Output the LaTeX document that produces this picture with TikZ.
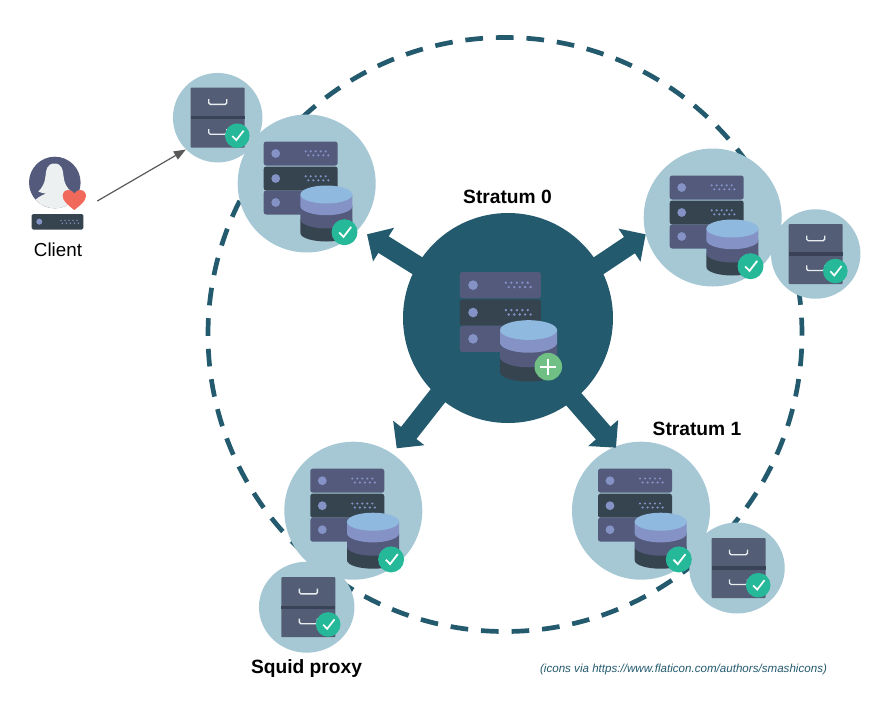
\documentclass[tikz,border=0pt]{standalone}
\usepackage{fontspec}
\setmainfont{Liberation Sans}
\usetikzlibrary{shapes.geometric,arrows.meta}
\definecolor{teal}{HTML}{235A6E}
\definecolor{pale}{HTML}{A6C8D4}
\definecolor{rowp}{HTML}{535A7C}
\definecolor{rowd}{HTML}{36444F}
\definecolor{lil}{HTML}{8592C6}
\definecolor{dbtop}{HTML}{8FB9DF}
\definecolor{cabc}{HTML}{535D75}
\definecolor{cabd}{HTML}{3A4258}
\definecolor{okg}{HTML}{26B999}
\definecolor{plusg}{HTML}{70C085}
\definecolor{heart}{HTML}{F0695A}
\definecolor{skin}{HTML}{ECF0F1}
\definecolor{hand}{HTML}{E8EEF0}
\definecolor{arrowg}{HTML}{595959}
\tikzset{
  bubble/.style={ellipse,fill=pale,inner sep=0pt},
  label text/.style={font=\fontsize{18.8}{22}\selectfont,text=black,inner sep=0pt},
  strat text/.style={font=\fontsize{19.2}{22}\selectfont\bfseries,text=black,inner sep=0pt},
  big arrow/.style={draw=teal,line width=19.5pt,shorten <=-3pt,-{Triangle[length=19.5pt,width=38.5pt,fill=teal]}},
  serverdb/.pic={
    \foreach \yy/\cc in {-42/rowp,-17/rowd,7/rowp}{
      \fill[\cc,rounded corners=2.5pt] (-43,\yy) rectangle (31,\yy+24);
      \fill[lil] (-31,\yy+12) circle (4.4);
      \foreach \dx in {-1,4,9,14,19}{
        \fill[lil] (\dx,\yy+9.8) circle (1.2);
        \fill[lil] (\dx+2.6,\yy+13.8) circle (1.2);
      }
    }
    \fill[rowd] (-6.3,36) -- (-6.3,49.5) .. controls (-6.3,54.5) and (6,58) .. (19.7,58) .. controls (33.4,58) and (45.7,54.5) .. (45.7,49.5) -- (45.7,36) -- cycle;
    \fill[rowp] (-6.3,22) -- (-6.3,36) .. controls (-6.3,41) and (6,45) .. (19.7,45) .. controls (33.4,45) and (45.7,41) .. (45.7,36) -- (45.7,22) -- cycle;
    \fill[lil] (-6.3,11) -- (-6.3,22.7) .. controls (-6.3,27.7) and (6,31.7) .. (19.7,31.7) .. controls (33.4,31.7) and (45.7,27.7) .. (45.7,22.7) -- (45.7,11) -- cycle;
    \fill[dbtop] (19.7,11) ellipse[x radius=26,y radius=9];
  },
  cabinet/.pic={
    \fill[cabc,rounded corners=0.8pt] (-27,-30) rectangle (27,30);
    \fill[cabd] (-27,-1.6) rectangle (27,1.6);
    \foreach \yy in {-18.5,11.3}{
      \draw[hand,line width=1.4pt,rounded corners=1.5pt] (-9,\yy) -- (-9,\yy+5.2) -- (9,\yy+5.2) -- (9,\yy);
    }
  },
  tickbadge/.pic={
    \fill[okg] (0,0) circle (13);
    \draw[white,line width=1.8pt] (-5.3,0.3) -- (-1,4.7) -- (6.7,-5.3);
  },
  tinytick/.pic={
    \fill[okg] (0,0) circle (12.3);
    \draw[white,line width=1.7pt] (-5,0.3) -- (-1,4.4) -- (6.3,-5);
  },
  plusbadge/.pic={
    \fill[plusg] (0,0) circle (13.8);
    \draw[white,line width=2pt] (-8,0) -- (8,0) (0,-8) -- (0,8);
  }
}
\begin{document}
\begin{tikzpicture}[x=1pt,y=-1pt]
\useasboundingbox (0,0) rectangle (884,702);
% dashed ring
\draw[teal,line width=4.7pt,dash pattern=on 17.7pt off 12.89pt,dash phase=16.5pt] (505,334.5) circle (297);
% bubbles
\node[bubble,minimum width=138pt,minimum height=138pt] (srvTL) at (306.7,183.5) {};
\node[bubble,minimum width=138pt,minimum height=138pt] (srvR) at (712.7,217.5) {};
\node[bubble,minimum width=138pt,minimum height=138pt] (srvBL) at (353.3,510.7) {};
\node[bubble,minimum width=138pt,minimum height=138pt] (srvBR) at (641,510.7) {};
\node[bubble,minimum width=89.5pt,minimum height=89.5pt] (cabTL) at (217.7,117.7) {};
\node[bubble,minimum width=89.5pt,minimum height=89.5pt] (cabR) at (815.7,254) {};
\node[bubble,minimum width=95.5pt,minimum height=91pt] (cabBL) at (306.7,607.2) {};
\node[bubble,minimum width=95.5pt,minimum height=91pt] (cabBR) at (737,568) {};
% centre
\node[circle,fill=teal,inner sep=0pt,minimum size=210pt] (core) at (508,318) {};
\coordinate (tipTL) at (367,234.3);
\coordinate (tipR) at (645.7,234.3);
\coordinate (tipBL) at (396.7,448.3);
\coordinate (tipBR) at (616,447.7);
\draw[big arrow] (core.150.6) -- (tipTL);
\draw[big arrow] (core.30) -- (tipR);
\draw[big arrow] (core.228.6) -- (tipBL);
\draw[big arrow] (core.309.7) -- (tipBR);
% icons
\pic[scale=1.095] at (507,318) {serverdb};
\pic at (548.3,366.7) {plusbadge};
\foreach \n in {srvTL,srvR,srvBL,srvBR}{
  \pic at (\n) {serverdb};
  \pic at ([xshift=37.8pt,yshift=-48.7pt]\n) {tickbadge};
}
\pic at (cabTL) {cabinet};
\pic at ([xshift=19.6pt,yshift=-18pt]cabTL) {tinytick};
\pic at (cabR) {cabinet};
\pic at ([xshift=19.6pt,yshift=-17pt]cabR) {tinytick};
\pic at ([xshift=1.7pt]cabBL) {cabinet};
\pic at ([xshift=21.5pt,yshift=-17.2pt]cabBL) {tinytick};
\pic at ([xshift=1.5pt]cabBR) {cabinet};
\pic at ([xshift=21.2pt,yshift=-17.2pt]cabBR) {tinytick};
% client
\node[circle,fill=rowp,inner sep=0pt,minimum size=51.6pt] (client) at (54.8,182.5) {};
\begin{scope}
  \clip (54.8,182.5) circle (25.8);
  \fill[skin] (54.5,163.5) .. controls (47,163.5) and (46,170) .. (45.5,176)
    .. controls (45,183) and (42,188) .. (38.3,191.5)
    .. controls (41,193) and (44,193.5) .. (46,193.5)
    .. controls (40,196) and (35,199) .. (33,203)
    -- (33,212) -- (76,212) -- (76,203)
    .. controls (74,199) and (69,196) .. (63,193.5)
    .. controls (65,193.5) and (68,193) .. (71,191.5)
    .. controls (67,188) and (64,183) .. (63.5,176)
    .. controls (63,170) and (62,163.5) .. (54.5,163.5) -- cycle;
\end{scope}
\fill[heart] (74.3,210) .. controls (68,205) and (62.7,201) .. (62.7,196)
  .. controls (62.7,192.5) and (65,190) .. (68.3,190)
  .. controls (70.8,190) and (73,191.2) .. (74.3,193.5)
  .. controls (75.6,191.2) and (77.8,190) .. (80.3,190)
  .. controls (83.6,190) and (86,192.5) .. (86,196)
  .. controls (86,201) and (80.6,205) .. (74.3,210) -- cycle;
\fill[rowd,rounded corners=1.5pt] (31.7,214) rectangle (83.3,229.5);
\fill[lil] (39.3,221.7) circle (3);
\foreach \dx in {61,65,69,73,77}{
  \fill[lil] (\dx,220.3) circle (0.8);
  \fill[lil] (\dx+1.3,223.2) circle (0.8);
}
\coordinate (clientOut) at (97.3,201);
\draw[arrowg,line width=1.2pt,-{Triangle[length=12pt,width=9pt]}] (clientOut) -- (cabTL.225.5);
% labels
\node[label text] (lclient) at (58,250) {Client};
\node[strat text] (l0) at (507.5,196.5) {Stratum 0};
\node[strat text] (l1) at (697,428.5) {Stratum 1};
\node[strat text] (lsq) at (306.5,668.5) {Squid proxy};
\node[inner sep=0pt,text=teal,font=\fontsize{11.6}{13}\selectfont\itshape] (note) at (683.5,669.5) {(icons via https://www.flaticon.com/authors/smashicons)};
\end{tikzpicture}
\end{document}
